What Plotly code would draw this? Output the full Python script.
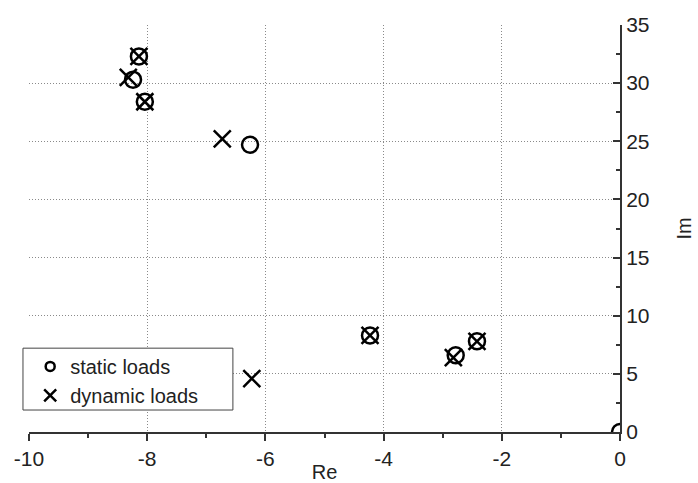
import plotly.graph_objects as go

# Static loads (circles)
static_re = [-8.14, -8.24, -8.04, -6.26, -4.23, -2.42, -2.78, 0.0]
static_im = [32.3, 30.3, 28.4, 24.7, 8.3, 7.8, 6.6, 0.0]
# Dynamic loads (crosses)
dyn_re = [-8.14, -8.32, -8.04, -6.73, -4.23, -2.42, -2.82, -6.23]
dyn_im = [32.3, 30.5, 28.4, 25.2, 8.3, 7.8, 6.4, 4.6]

x_ticks = [-10, -8, -6, -4, -2, 0]
y_ticks = [0, 5, 10, 15, 20, 25, 30, 35]
x_grid = [-8, -6, -4, -2]
y_grid = [5, 10, 15, 20, 25, 30]

FONT = "Liberation Sans, Arial, Helvetica, sans-serif"
INK = "#222"

fig = go.Figure()
fig.add_trace(go.Scatter(x=static_re, y=static_im, mode="markers", showlegend=False,
                         marker=dict(symbol="circle-open", size=16, color="black",
                                     line=dict(width=2.5, color="black"))))
fig.add_trace(go.Scatter(x=dyn_re, y=dyn_im, mode="markers", showlegend=False,
                         marker=dict(symbol="x-thin-open", size=17, color="black",
                                     line=dict(width=2.5, color="black"))))
# legend-only entries with smaller markers
fig.add_trace(go.Scatter(x=[None], y=[None], mode="markers", name="static loads",
                         legendgroup="a",
                         marker=dict(symbol="circle-open", size=9, color="black",
                                     line=dict(width=2.5, color="black"))))
fig.add_trace(go.Scatter(x=[None], y=[None], mode="markers", name="dynamic loads",
                         legendgroup="b",
                         marker=dict(symbol="x-thin-open", size=12, color="black",
                                     line=dict(width=2.5, color="black"))))
# invisible trace on overlay axes used only for the dotted grid
fig.add_trace(go.Scatter(x=[None], y=[None], xaxis="x2", yaxis="y2",
                         showlegend=False, hoverinfo="skip"))

grid_style = dict(showgrid=True, gridcolor="#8a8a8a", griddash="1px,2px", gridwidth=1)

fig.update_layout(
    width=698, height=483,
    margin=dict(l=29, r=78, t=25, b=51),
    paper_bgcolor="white", plot_bgcolor="white",
    font=dict(family=FONT, size=21, color=INK),
    showlegend=True,
    legend=dict(x=0.002, y=0.209, xanchor="left", yanchor="top",
                bgcolor="rgba(0,0,0,0)", borderwidth=0,
                font=dict(size=20, color=INK),
                traceorder="grouped", tracegroupgap=0, itemwidth=30),
    shapes=[dict(type="rect", xref="paper", yref="paper",
                 x0=-0.0102, x1=0.345, y0=0.054, y1=0.206,
                 line=dict(color="#444", width=1), fillcolor="white", layer="above")],
    xaxis=dict(range=[-10, 0], tickvals=x_ticks, ticktext=[str(v) for v in x_ticks],
               showline=True, linecolor="#333", linewidth=2,
               ticks="outside", ticklen=7, tickwidth=1.5, tickcolor="#333",
               ticklabelstandoff=0, tickfont=dict(size=21),
               minor=dict(tickvals=[-9, -7, -5, -3, -1], ticks="outside", ticklen=4,
                          tickwidth=1.5, tickcolor="#333", showgrid=False),
               showgrid=False, zeroline=False, automargin=False,
               title=dict(text="Re", standoff=3, font=dict(size=20))),
    yaxis=dict(range=[0, 35], side="right", tickvals=y_ticks,
               showline=True, linecolor="#333", linewidth=2,
               ticks="inside", ticklen=7, tickwidth=1.5, tickcolor="#333",
               tickfont=dict(size=21),
               minor=dict(tickvals=[2.5, 7.5, 12.5, 17.5, 22.5, 27.5, 32.5], ticks="inside",
                          ticklen=4, tickwidth=1.5, tickcolor="#333", showgrid=False),
               showgrid=False, zeroline=False, automargin=False,
               title=dict(text="Im", standoff=28, font=dict(size=20))),
    xaxis2=dict(overlaying="x", matches="x", range=[-10, 0], anchor="y2",
                tickvals=x_grid, showticklabels=False, ticks="", showline=False,
                zeroline=False, automargin=False, **grid_style),
    yaxis2=dict(overlaying="y", matches="y", range=[0, 35], anchor="x2", side="right",
                tickvals=y_grid, showticklabels=False, ticks="", showline=False,
                zeroline=False, automargin=False, **grid_style),
)

fig.write_html("out.html")
